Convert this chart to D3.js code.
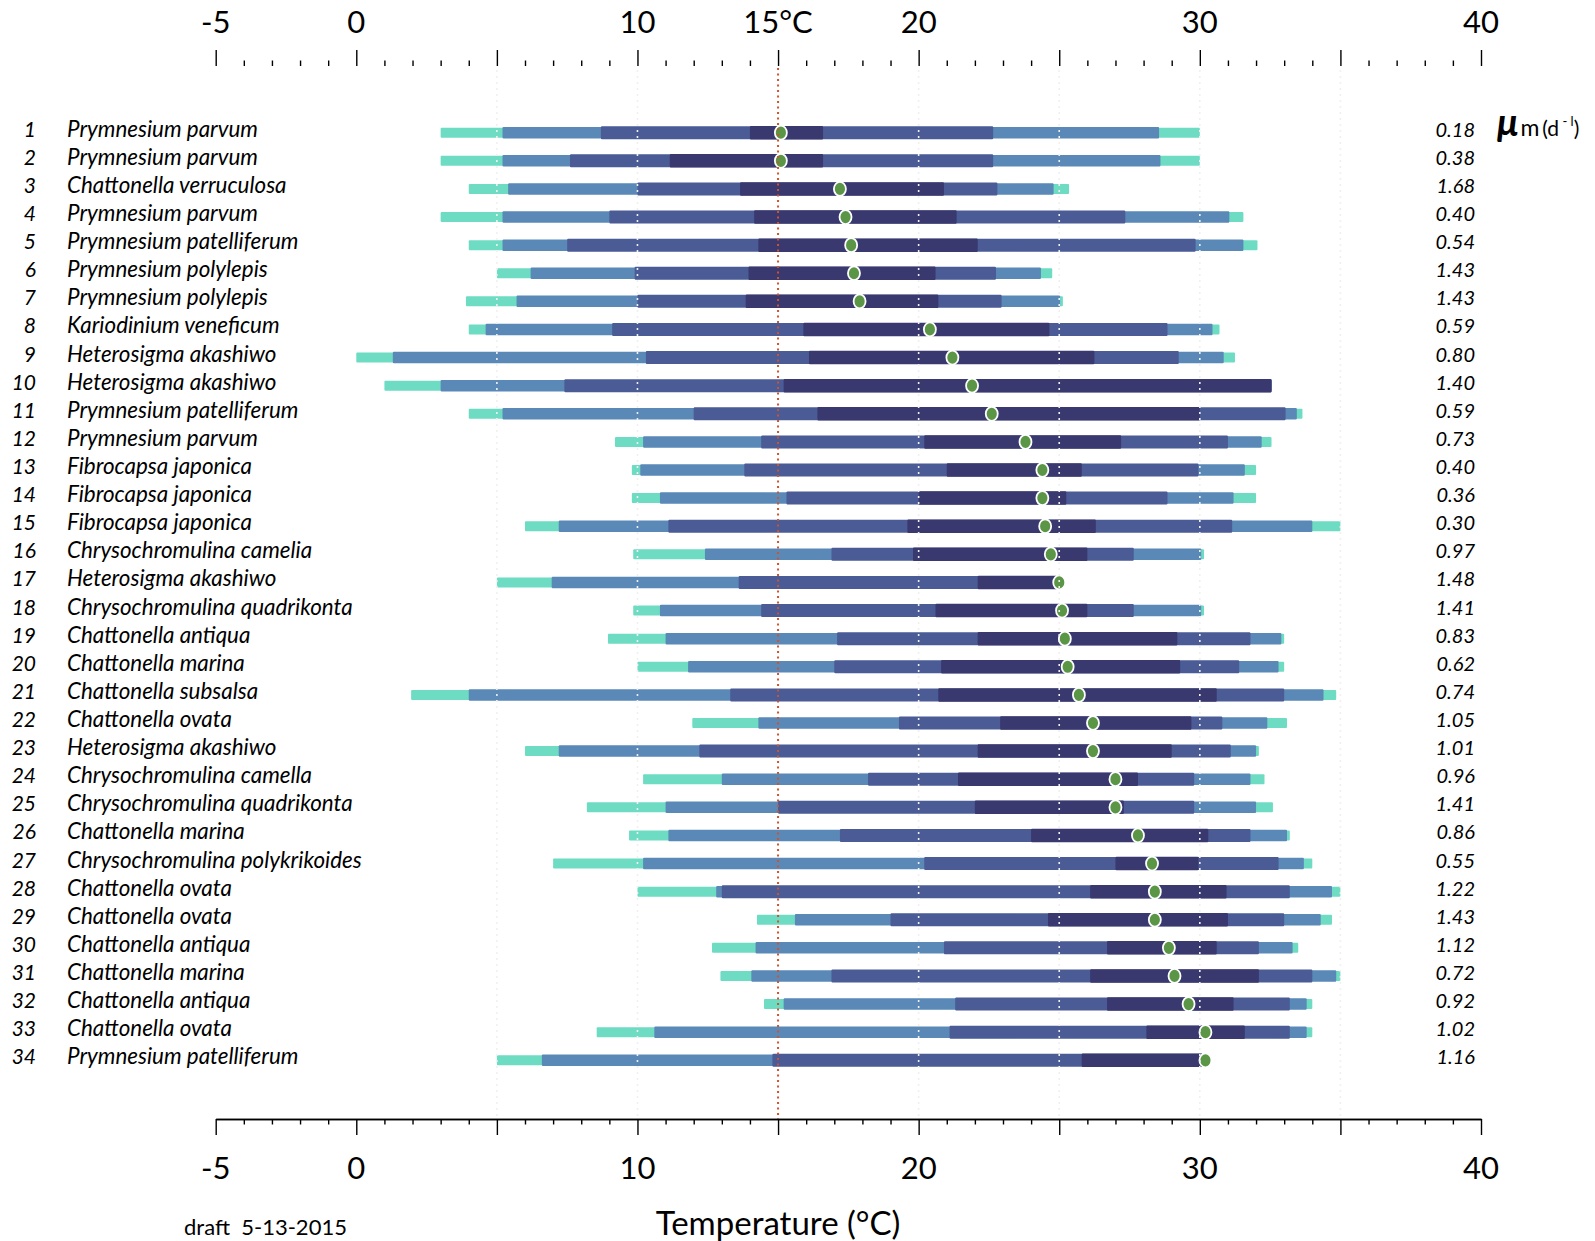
<!DOCTYPE html>
<html>
<head>
<meta charset="utf-8">
<script src="https://cdn.jsdelivr.net/npm/d3@7"></script>
<style>
  html, body { margin: 0; padding: 0; background: #fff; }
  svg { display: block; font-family: Lato, "Open Sans", sans-serif; }
</style>
</head>
<body>
<svg id="chart" width="1595" height="1241"></svg>
<script>
// ---------------- DATA ----------------
const rowIds = d3.range(1, 35);
const species = [
  "Prymnesium parvum","Prymnesium parvum","Chattonella verruculosa","Prymnesium parvum",
  "Prymnesium patelliferum","Prymnesium polylepis","Prymnesium polylepis","Kariodinium veneficum",
  "Heterosigma akashiwo","Heterosigma akashiwo","Prymnesium patelliferum","Prymnesium parvum",
  "Fibrocapsa japonica","Fibrocapsa japonica","Fibrocapsa japonica","Chrysochromulina camelia",
  "Heterosigma akashiwo","Chrysochromulina quadrikonta","Chattonella antiqua","Chattonella marina",
  "Chattonella subsalsa","Chattonella ovata","Heterosigma akashiwo","Chrysochromulina camella",
  "Chrysochromulina quadrikonta","Chattonella marina","Chrysochromulina polykrikoides","Chattonella ovata",
  "Chattonella ovata","Chattonella antiqua","Chattonella marina","Chattonella antiqua",
  "Chattonella ovata","Prymnesium patelliferum"
];
const muMax = ["0.18","0.38","1.68","0.40","0.54","1.43","1.43","0.59","0.80","1.40","0.59","0.73",
  "0.40","0.36","0.30","0.97","1.48","1.41","0.83","0.62","0.74","1.05","1.01","0.96","1.41","0.86",
  "0.55","1.22","1.43","1.12","0.72","0.92","1.02","1.16"];

// outer range (teal)
const tealLo = [3.0,3.0,4.0,3.0,4.0,5.0,3.9,4.0,0.0,1.0,4.0,9.2,9.8,9.8,6.0,9.85,5.0,9.85,8.95,10.0,1.95,11.95,6.0,10.2,8.2,9.7,7.0,10.0,14.25,12.65,12.95,14.5,8.55,5.0];
const tealHi = [30.0,30.0,25.35,31.55,32.05,24.75,25.13,30.7,31.25,32.55,33.65,32.55,32.0,32.0,35.0,30.15,24.95,30.15,33.0,33.0,34.85,33.1,32.1,32.3,32.6,33.2,34.0,35.0,34.7,33.5,35.0,34.0,34.0,30.1];
// second range (light blue)
const lbLo = [5.2,5.2,5.4,5.2,5.2,6.2,5.7,4.6,1.3,3.0,5.2,10.2,10.1,10.8,7.2,12.4,6.95,10.8,11.0,11.8,4.0,14.3,7.2,13.0,11.0,11.1,10.2,12.8,15.6,14.2,14.05,15.2,10.6,6.6];
const lbHi = [28.55,28.6,24.8,31.05,31.55,24.35,25.03,30.45,30.85,32.55,33.45,32.2,31.6,31.2,34.0,30.05,24.95,30.05,32.9,32.8,34.4,32.4,32.0,31.8,32.0,33.1,33.7,34.7,34.3,33.3,34.85,33.8,33.8,30.1];
// third range (medium blue)
const midLo = [8.7,7.6,10.0,9.0,7.5,9.9,10.0,9.1,10.3,7.4,12.0,14.4,13.8,15.3,11.1,16.9,13.6,14.4,17.1,17.0,13.3,19.3,12.2,18.2,15.0,17.2,20.2,13.0,19.0,20.9,16.9,21.3,21.1,14.8];
const midHi = [22.65,22.65,22.8,27.35,29.85,22.75,22.95,28.85,29.25,32.55,33.05,31.0,29.95,28.85,31.15,27.65,24.95,27.65,31.8,31.4,33.0,30.8,31.1,29.8,29.8,31.8,32.8,33.2,33.0,32.1,34.0,33.2,33.2,30.1];
// inner range (dark navy)
const navyLo = [14.0,11.15,13.65,14.15,14.3,13.95,13.85,15.9,16.1,15.2,16.4,20.2,21.0,20.0,19.6,19.8,22.1,20.6,22.1,20.8,20.7,22.9,22.1,21.4,22.0,24.0,27.0,26.1,24.6,26.7,26.1,26.7,28.1,25.8];
const navyHi = [16.6,16.6,20.9,21.35,22.1,20.6,20.7,24.65,26.25,32.55,30.0,27.2,25.8,25.25,26.3,26.0,24.95,26.0,29.2,29.3,30.6,29.7,29.0,27.8,27.3,30.3,29.95,30.95,31.0,30.6,32.1,31.2,31.6,30.1];
// optimum temperature
const optimum = [15.1,15.1,17.2,17.4,17.6,17.7,17.9,20.4,21.2,21.9,22.6,23.8,24.4,24.4,24.5,24.7,25.0,25.1,25.2,25.3,25.7,26.2,26.2,27.0,27.0,27.8,28.3,28.4,28.4,28.9,29.1,29.6,30.2,30.2];

const topTickLabels = [-5, 0, 10, 15, 20, 30, 40];
const bottomTickLabels = [-5, 0, 10, 20, 30, 40];
const gridValues = [5, 10, 20, 25, 30, 35];
const refTemp = 15;

// ---------------- DRAW ----------------
const svg = d3.select("#chart");
const x = d3.scaleLinear().domain([-5, 40]).range([215.7, 1481]);
const y = d3.scalePoint().domain(rowIds).range([132.7, 1060.3]);

const levels = [
  {lo: tealLo, hi: tealHi, color: "#6ddcc3", h: 10},
  {lo: lbLo, hi: lbHi, color: "#5a89b8", h: 11.5},
  {lo: midLo, hi: midHi, color: "#4a5b96", h: 13},
  {lo: navyLo, hi: navyHi, color: "#39386f", h: 13.5}
];

const barsG = svg.append("g");
levels.forEach(L => {
  barsG.append("g").selectAll("rect").data(rowIds).join("rect")
    .attr("x", (d, i) => x(L.lo[i]))
    .attr("width", (d, i) => x(L.hi[i]) - x(L.lo[i]))
    .attr("y", d => y(d) - L.h / 2)
    .attr("height", L.h)
    .attr("rx", 1)
    .attr("fill", L.color);
});

// optimum dots
svg.append("g").selectAll("ellipse").data(rowIds).join("ellipse")
  .attr("cx", (d, i) => x(optimum[i]))
  .attr("cy", d => y(d))
  .attr("rx", 6).attr("ry", 7)
  .attr("fill", "#5a9645")
  .attr("stroke", "#ffffff").attr("stroke-width", 1.8);

// grid lines (dotted, very light)
svg.append("g").selectAll("line").data(gridValues).join("line")
  .attr("x1", d => x(d)).attr("x2", d => x(d))
  .attr("y1", 70).attr("y2", 1117)
  .attr("stroke", "#f0f0f0").attr("stroke-width", 1.6)
  .attr("stroke-dasharray", "2,4");

// 15 °C reference line
svg.append("line")
  .attr("x1", x(refTemp)).attr("x2", x(refTemp))
  .attr("y1", 68).attr("y2", 1119)
  .attr("stroke", "#d0532c").attr("stroke-width", 2)
  .attr("stroke-dasharray", "2,3.5");

// top axis
const majorVals = d3.range(-5, 41, 5);
const minorVals = d3.range(-5, 41, 1).filter(v => v % 5 !== 0);
const topG = svg.append("g").attr("transform", "translate(0,66)");
topG.append("g").call(d3.axisTop(x).tickValues(majorVals).tickSize(16).tickFormat(""));
topG.append("g").call(d3.axisTop(x).tickValues(minorVals).tickSize(5.5).tickFormat(""));
topG.selectAll(".domain").remove();
topG.selectAll(".tick line").attr("stroke", "#000").attr("stroke-width", 1.4);
topG.selectAll("text.lab").data(topTickLabels).join("text").attr("class", "lab")
  .attr("x", d => x(d)).attr("y", -33)
  .attr("text-anchor", "middle")
  .attr("font-size", 31).attr("fill", "#000")
  .text(d => d === refTemp ? d + "°C" : String(d));

// bottom axis
const botG = svg.append("g").attr("transform", "translate(0,1119)");
botG.append("g").call(d3.axisBottom(x).tickValues(majorVals).tickSize(16).tickSizeOuter(0).tickFormat(""));
botG.append("g").call(d3.axisBottom(x).tickValues(minorVals).tickSize(5.5).tickSizeOuter(0).tickFormat(""));
botG.selectAll(".domain").attr("stroke", "#000").attr("stroke-width", 1.4);
botG.selectAll(".tick line").attr("stroke", "#000").attr("stroke-width", 1.4);
botG.selectAll("text.lab").data(bottomTickLabels).join("text").attr("class", "lab")
  .attr("x", d => x(d)).attr("y", 60)
  .attr("text-anchor", "middle")
  .attr("font-size", 31).attr("fill", "#000")
  .text(d => String(d));

svg.append("text")
  .attr("x", x(refTemp)).attr("y", 1235)
  .attr("text-anchor", "middle").attr("font-size", 33).attr("fill", "#000")
  .text("Temperature (°C)");

svg.append("text")
  .attr("x", 184).attr("y", 1235)
  .attr("font-size", 22).attr("fill", "#000")
  .attr("xml:space", "preserve")
  .text("draft  5-13-2015");

// row labels
const labG = svg.append("g").attr("font-style", "italic").attr("fill", "#000");
labG.selectAll("text.num").data(rowIds).join("text").attr("class", "num")
  .attr("x", 36).attr("y", d => y(d) + 4)
  .attr("text-anchor", "end").attr("font-size", 21)
  .text(d => d);
labG.selectAll("text.sp").data(rowIds).join("text").attr("class", "sp")
  .attr("x", 67).attr("y", d => y(d) + 4)
  .attr("font-size", 22.4)
  .text((d, i) => species[i]);
labG.selectAll("text.mu").data(rowIds).join("text").attr("class", "mu")
  .attr("x", 1475).attr("y", d => y(d) + 4)
  .attr("text-anchor", "end").attr("font-size", 20)
  .text((d, i) => muMax[i]);

// mu_m (d-1) label
const muLab = svg.append("text").attr("x", 1497).attr("y", y(1) + 3).attr("fill", "#000");
muLab.append("tspan").attr("font-size", 38).attr("font-style", "italic").attr("font-weight", "bold").text("μ");
muLab.append("tspan").attr("font-size", 23).attr("dx", 2).text("m");
muLab.append("tspan").attr("font-size", 21).attr("dx", 3).text("(d");
muLab.append("tspan").attr("font-size", 13).attr("dy", -10).text(" - l");
muLab.append("tspan").attr("font-size", 21).attr("dy", 10).text(")");
</script>
</body>
</html>
